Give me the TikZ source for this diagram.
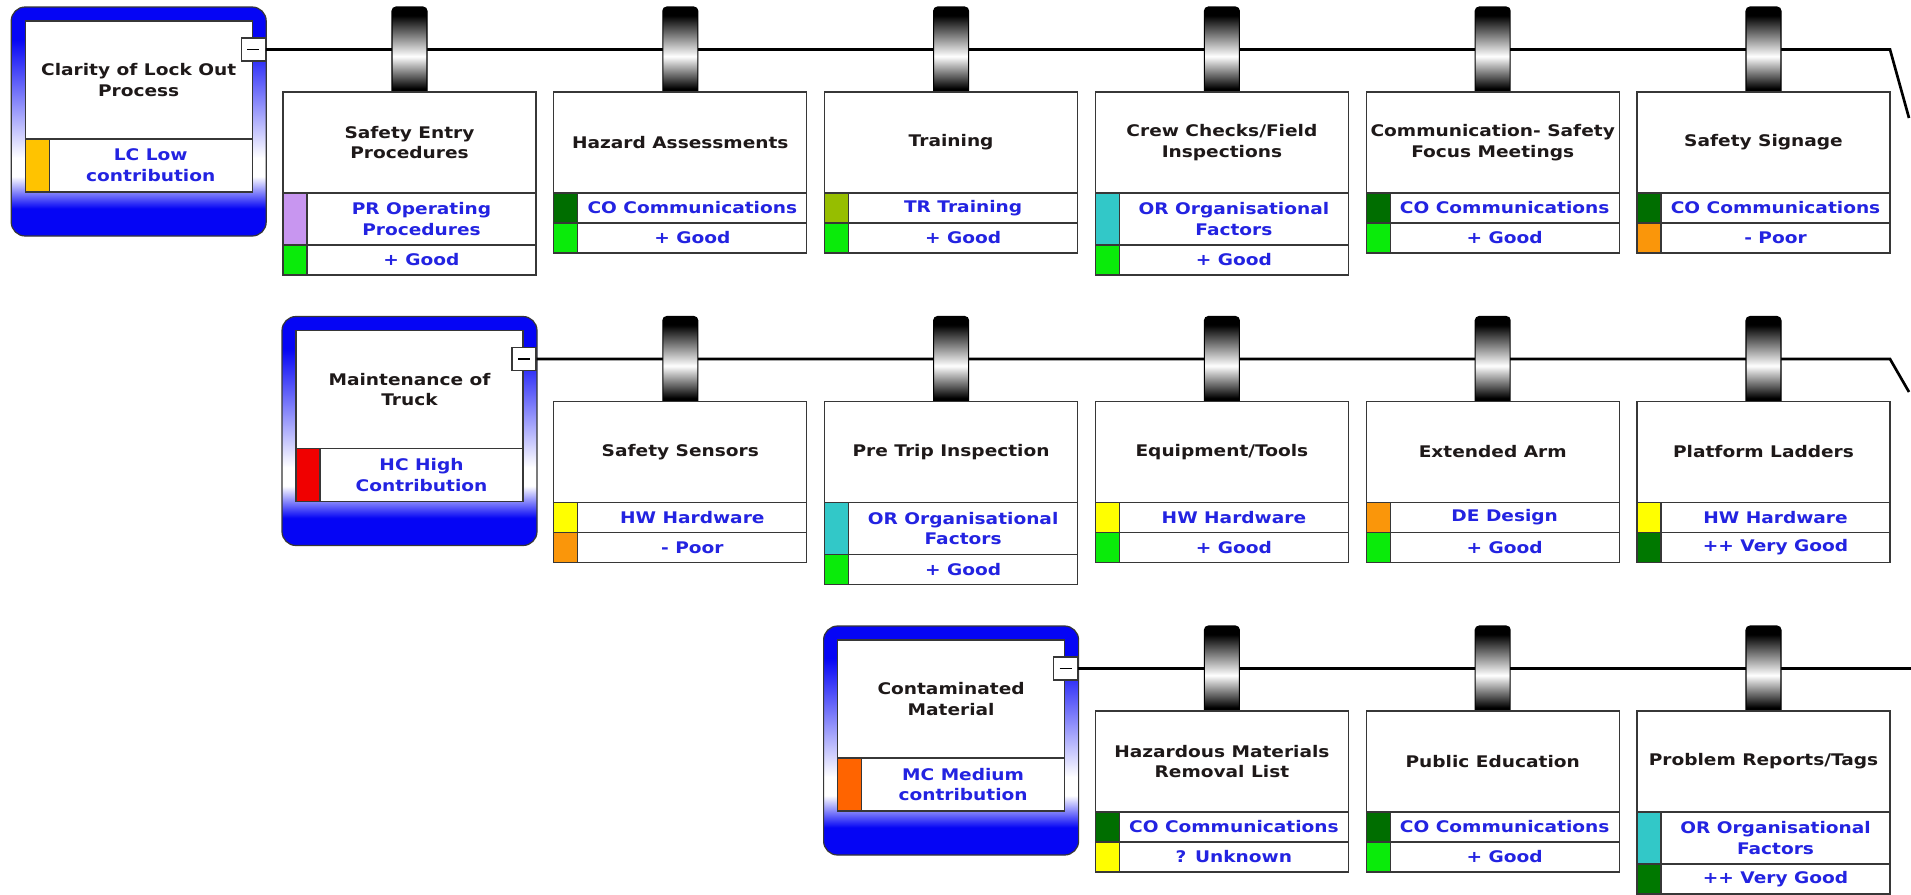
\documentclass[tikz,border=0pt]{standalone}
\usepackage{fontspec}
\newfontfamily\lbl{DejaVu Sans}[FakeStretch=1.16]
\definecolor{pblue}{RGB}{5,5,245}
\definecolor{txtblue}{RGB}{35,35,225}
\definecolor{titlecol}{RGB}{30,25,25}
\definecolor{bordercol}{RGB}{55,55,55}
\definecolor{cLC}{RGB}{255,195,0}
\definecolor{cPR}{RGB}{200,150,240}
\definecolor{cGood}{RGB}{10,235,10}
\definecolor{cCO}{RGB}{0,110,0}
\definecolor{cTR}{RGB}{150,190,0}
\definecolor{cOR}{RGB}{50,200,200}
\definecolor{cPoor}{RGB}{250,150,10}
\definecolor{cHC}{RGB}{240,0,0}
\definecolor{cHW}{RGB}{255,255,0}
\definecolor{cDE}{RGB}{250,150,10}
\definecolor{cVG}{RGB}{0,120,0}
\definecolor{cMC}{RGB}{255,100,0}
\definecolor{cUnk}{RGB}{255,255,0}
\pgfdeclareverticalshading{parentshade}{100bp}{color(0bp)=(pblue); color(31bp)=(pblue); color(38bp)=(white); color(42bp)=(white); color(68bp)=(pblue); color(100bp)=(pblue)}
\pgfdeclareverticalshading{beadshade}{100bp}{color(0bp)=(black); color(27bp)=(black); color(46bp)=(white); color(70bp)=(black); color(100bp)=(black)}
\tikzset{
  boxline/.style={draw=bordercol, line width=0.9pt},
  parentouter/.style={draw=bordercol, line width=0.9pt, shading=parentshade, rounded corners=10.5pt},
  beadshape/.style={draw=black, line width=0.8pt, shading=beadshade, rounded corners=3pt},
  titletext/.style={font={\lbl\bfseries\fontsize{12pt}{15.5pt}\selectfont}, text=titlecol, align=center, inner sep=0pt},
  rowtext/.style={font={\lbl\bfseries\fontsize{12pt}{15.5pt}\selectfont}, text=txtblue, align=center, inner sep=0pt},
  minusbox/.style={draw=bordercol, line width=0.9pt, fill=white, minimum width=18pt, minimum height=17.25pt, inner sep=0pt},
  linkline/.style={draw=black, line width=2pt}
}
\newcommand\childbox[9]{%
  \pgfmathsetmacro\cX{#2}\pgfmathsetmacro\cY{#3}%
  \pgfmathsetmacro\rA{\cY+193}\pgfmathsetmacro\rB{\cY+193+#7}\pgfmathsetmacro\rC{\rB+30}%
  \path[beadshape] ({\cX+109},{\cY+92}) -- ({\cX+109},{\cY+7}) -- ({\cX+144},{\cY+7}) -- ({\cX+144},{\cY+92});
  \draw[boxline, fill=white] (\cX,{\cY+92}) rectangle ({\cX+253},\rA);
  \node[titletext] (#1) at ({\cX+126.5},{\cY+142.5}) {#4};
  \draw[boxline, fill=#5] (\cX,\rA) rectangle ({\cX+24},\rB);
  \draw[boxline, fill=white] ({\cX+24},\rA) rectangle ({\cX+253},\rB);
  \node[rowtext] (#1-a) at ({\cX+138.5},{(\rA+\rB)/2}) {#6};
  \draw[boxline, fill=#8] (\cX,\rB) rectangle ({\cX+24},\rC);
  \draw[boxline, fill=white] ({\cX+24},\rB) rectangle ({\cX+253},\rC);
  \node[rowtext] (#1-b) at ({\cX+138.5},{(\rB+\rC)/2}) {#9};
}
\newcommand\parentbox[6]{%
  \pgfmathsetmacro\pX{#2}\pgfmathsetmacro\pY{#3}%
  \path[parentouter] ({\pX-1},{\pY+7}) rectangle ({\pX+254},{\pY+236});
  \draw[boxline, fill=white] ({\pX+13},{\pY+21}) rectangle ({\pX+240},{\pY+139});
  \node[titletext] (#1) at ({\pX+126.5},{\pY+80}) {#4};
  \draw[boxline, fill=#5] ({\pX+13},{\pY+139}) rectangle ({\pX+37},{\pY+192});
  \draw[boxline, fill=white] ({\pX+37},{\pY+139}) rectangle ({\pX+240},{\pY+192});
  \node[rowtext] (#1-a) at ({\pX+138.5},{\pY+165.5}) {#6};
  \node[minusbox] (#1-m) at ({\pX+241},{\pY+49.5}) {};
  \draw[line width=1.2pt] ([xshift=-4.5pt]#1-m.center) -- ([xshift=4.5pt]#1-m.center);
}
\begin{document}
\begin{tikzpicture}[x=0.75pt, y=-0.75pt]
\useasboundingbox[fill=white] (0,0) rectangle (1911,894);
% parents
\parentbox{p0}{12.2}{0}{Clarity of Lock Out\\Process}{cLC}{LC Low\\contribution}
\parentbox{p1}{283}{309.5}{Maintenance of\\Truck}{cHC}{HC High\\Contribution}
\parentbox{p2}{824.6}{619}{Contaminated\\Material}{cMC}{MC Medium\\contribution}
% connector lines
\coordinate (e0a) at (1890,49.5);
\coordinate (e0b) at (1909,118);
\coordinate (e1a) at (1890,359);
\coordinate (e1b) at (1909,392);
\coordinate (e2a) at (1911,668.5);
\draw[linkline] (p0-m.east) -- (e0a) -- (e0b);
\draw[linkline] (p1-m.east) -- (e1a) -- (e1b);
\draw[linkline] (p2-m.east) -- (e2a);
% row 0 children
\childbox{c01}{283}{0}{Safety Entry\\Procedures}{cPR}{PR Operating\\Procedures}{52}{cGood}{+ Good}
\childbox{c02}{553.8}{0}{Hazard Assessments}{cCO}{CO Communications}{30}{cGood}{+ Good}
\childbox{c03}{824.6}{0}{Training}{cTR}{TR Training}{30}{cGood}{+ Good}
\childbox{c04}{1095.4}{0}{Crew Checks/Field\\Inspections}{cOR}{OR Organisational\\Factors}{52}{cGood}{+ Good}
\childbox{c05}{1366.2}{0}{Communication- Safety\\Focus Meetings}{cCO}{CO Communications}{30}{cGood}{+ Good}
\childbox{c06}{1637}{0}{Safety Signage}{cCO}{CO Communications}{30}{cPoor}{- Poor}
% row 1 children
\childbox{c11}{553.8}{309.5}{Safety Sensors}{cHW}{HW Hardware}{30}{cPoor}{- Poor}
\childbox{c12}{824.6}{309.5}{Pre Trip Inspection}{cOR}{OR Organisational\\Factors}{52}{cGood}{+ Good}
\childbox{c13}{1095.4}{309.5}{Equipment/Tools}{cHW}{HW Hardware}{30}{cGood}{+ Good}
\childbox{c14}{1366.2}{309.5}{Extended Arm}{cDE}{DE Design}{30}{cGood}{+ Good}
\childbox{c15}{1637}{309.5}{Platform Ladders}{cHW}{HW Hardware}{30}{cVG}{++ Very Good}
% row 2 children
\childbox{c21}{1095.4}{619}{Hazardous Materials\\Removal List}{cCO}{CO Communications}{30}{cUnk}{? Unknown}
\childbox{c22}{1366.2}{619}{Public Education}{cCO}{CO Communications}{30}{cGood}{+ Good}
\childbox{c23}{1637}{619}{Problem Reports/Tags}{cOR}{OR Organisational\\Factors}{52}{cVG}{++ Very Good}
\end{tikzpicture}
\end{document}
